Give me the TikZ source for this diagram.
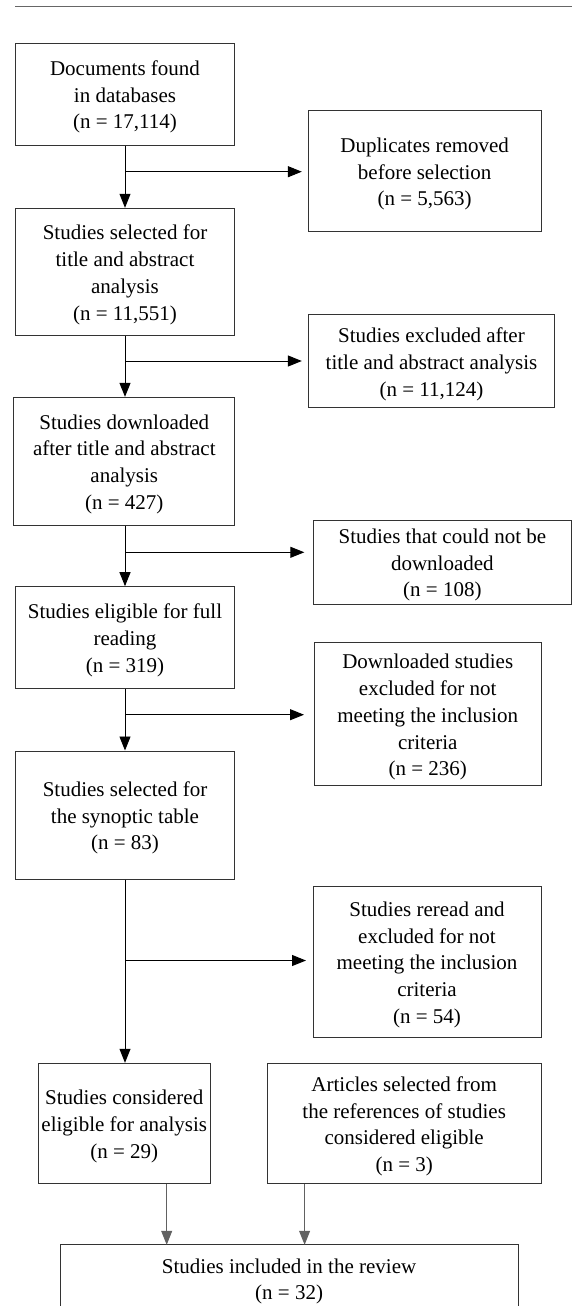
\documentclass[tikz,border=0pt]{standalone}
\usepackage{fontspec}
\setmainfont{Liberation Serif}
\usetikzlibrary{arrows.meta}
\newcommand{\boxlines}[1]{\raisebox{-2.7pt}[\height][\depth]{\begin{tabular}{@{}c@{}}#1\end{tabular}}}
\begin{document}
\begin{tikzpicture}[x=1pt,y=-1pt,
  txt/.style={inner sep=0pt, font=\fontsize{21}{26.7}\selectfont},
  box/.style={txt, draw=black!80, line width=1pt},
  conn/.style={line width=0.95pt, draw=black, -{Triangle[length=14pt,width=11pt]}},
  lowconn/.style={conn, draw=black!62},
  rulestyle/.style={line width=1.2pt, draw=black!60}
]
\useasboundingbox (0,0) rectangle (572,1306);
\draw[rulestyle] (15.3,6.7) -- (572,6.7);

% left column
\node[box, minimum width=219.3pt, minimum height=101.7pt] (b1) at (125,94.2) {\boxlines{Documents found\\in databases\\(n = 17,114)}};
\node[box, minimum width=219.3pt, minimum height=127.4pt] (b2) at (125,272) {\boxlines{Studies selected for\\title and abstract\\analysis\\(n = 11,551)}};
\node[box, minimum width=220.7pt, minimum height=127.7pt] (b3) at (124.3,461.2) {\boxlines{Studies downloaded\\after title and abstract\\analysis\\(n = 427)}};
\node[box, minimum width=219.3pt, minimum height=101.6pt] (b4) at (125,637.5) {\boxlines{Studies eligible for full\\reading\\(n = 319)}};
\node[box, minimum width=219.3pt, minimum height=128pt] (b5) at (125,815) {\boxlines{Studies selected for\\the synoptic table\\(n = 83)}};
\node[box, minimum width=172.5pt, minimum height=120pt] (b6) at (124.25,1123.3) {\boxlines{Studies considered\\eligible for analysis\\(n = 29)}};
\node[box, minimum width=273.6pt, minimum height=120pt] (b7) at (404.2,1123.3) {\boxlines{Articles selected from\\the references of studies\\considered eligible\\(n = 3)}};

% right column
\node[box, minimum width=232.7pt, minimum height=121pt] (dup) at (424.7,171.2) {\boxlines{Duplicates removed\\before selection\\(n = 5,563)}};
\node[box, minimum width=246.3pt, minimum height=92.7pt] (exc) at (431.5,361.3) {\boxlines{Studies excluded after\\title and abstract analysis\\(n = 11,124)}};
\node[box, minimum width=257.2pt, minimum height=83.7pt] (cn) at (442.4,562.2) {\boxlines{Studies that could not be\\downloaded\\(n = 108)}};
\node[box, minimum width=226.5pt, minimum height=143.3pt] (dl) at (427.75,714.3) {\boxlines{Downloaded studies\\excluded for not\\meeting the inclusion\\criteria\\(n = 236)}};
\node[box, minimum width=228pt, minimum height=151.3pt] (rr) at (427,961.7) {\boxlines{Studies reread and\\excluded for not\\meeting the inclusion\\criteria\\(n = 54)}};

% final box (cut by the page bottom)
\node[txt, minimum width=457.8pt, minimum height=66.7pt] (b8) at (289.1,1278.3) {\boxlines{Studies included in the review\\(n = 32)}};
\coordinate (bot) at (0,1306);
\draw[draw=black!80, line width=1pt] (b8.west |- bot) -- (b8.north west) -- (b8.north east) -- (b8.east |- bot);

% trunk
\coordinate (t) at (125,0);
\coordinate (j1) at (125,171.7);
\coordinate (j2) at (125,361);
\coordinate (j3) at (125,552.3);
\coordinate (j4) at (125,714.7);
\coordinate (j5) at (125,960.5);

\draw[conn] (b1.south -| t) -- (b2.north -| t);
\draw[conn] (b2.south -| t) -- (b3.north -| t);
\draw[conn] (b3.south -| t) -- (b4.north -| t);
\draw[conn] (b4.south -| t) -- (b5.north -| t);
\draw[conn] (b5.south -| t) -- (b6.north -| t);

\draw[conn, shorten >=6pt] (j1) -- (j1 -| dup.west);
\draw[conn, shorten >=6pt] (j2) -- (j2 -| exc.west);
\draw[conn, shorten >=9pt] (j3) -- (j3 -| cn.west);
\draw[conn, shorten >=10pt] (j4) -- (j4 -| dl.west);
\draw[conn, shorten >=6.5pt] (j5) -- (j5 -| rr.west);

% to final box
\coordinate (c1) at (166.7,0);
\coordinate (c2) at (304.6,0);
\draw[lowconn] (b6.south -| c1) -- (b8.north -| c1);
\draw[lowconn] (b7.south -| c2) -- (b8.north -| c2);
\end{tikzpicture}
\end{document}
